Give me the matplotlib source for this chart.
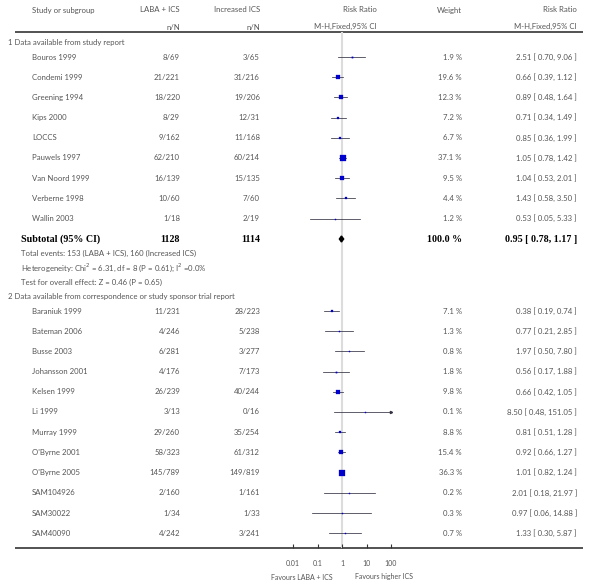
import numpy as np
import matplotlib
matplotlib.use("Agg")
import matplotlib.pyplot as plt
from matplotlib.patches import Polygon

# Group 1: data available from study report
g1_names = ["Bouros 1999", "Condemi 1999", "Greening 1994", "Kips 2000", "LOCCS",
            "Pauwels 1997", "Van Noord 1999", "Verberne 1998", "Wallin 2003"]
g1_laba = ["8/69", "21/221", "18/220", "8/29", "9/162", "62/210", "16/139", "10/60", "1/18"]
g1_ics = ["3/65", "31/216", "19/206", "12/31", "11/168", "60/214", "15/135", "7/60", "2/19"]
g1_weight = [1.9, 19.6, 12.3, 7.2, 6.7, 37.1, 9.5, 4.4, 1.2]
g1_rr = [2.51, 0.66, 0.89, 0.71, 0.85, 1.05, 1.04, 1.43, 0.53]
g1_lo = [0.70, 0.39, 0.48, 0.34, 0.36, 0.78, 0.53, 0.58, 0.05]
g1_hi = [9.06, 1.12, 1.64, 1.49, 1.99, 1.42, 2.01, 3.50, 5.33]

sub_laba, sub_ics, sub_weight = 1128, 1114, 100.0
sub_rr, sub_lo, sub_hi = 0.95, 0.78, 1.17

# Group 2: data available from correspondence or sponsor report
g2_names = ["Baraniuk 1999", "Bateman 2006", "Busse 2003", "Johansson 2001", "Kelsen 1999",
            "Li 1999", "Murray 1999", "O'Byrne 2001", "O'Byrne 2005", "SAM104926",
            "SAM30022", "SAM40090"]
g2_laba = ["11/231", "4/246", "6/281", "4/176", "26/239", "3/13", "29/260", "58/323",
           "145/789", "2/160", "1/34", "4/242"]
g2_ics = ["28/223", "5/238", "3/277", "7/173", "40/244", "0/16", "35/254", "61/312",
          "149/819", "1/161", "1/33", "3/241"]
g2_weight = [7.1, 1.3, 0.8, 1.8, 9.8, 0.1, 8.8, 15.4, 36.3, 0.2, 0.3, 0.7]
g2_rr = [0.38, 0.77, 1.97, 0.56, 0.66, 8.50, 0.81, 0.92, 1.01, 2.01, 0.97, 1.33]
g2_lo = [0.19, 0.21, 0.50, 0.17, 0.42, 0.48, 0.51, 0.66, 0.82, 0.18, 0.06, 0.30]
g2_hi = [0.74, 2.85, 7.80, 1.88, 1.05, 151.05, 1.28, 1.27, 1.24, 21.97, 14.88, 5.87]

ticks = [0.01, 0.1, 1, 10, 100]
tick_labels = ["0.01", "0.1", "1", "10", "100"]

plt.rcParams['font.family'] = ['Lato', 'DejaVu Sans']
txt = '#555555'
fs = 5.6
W, H = 600, 586

fig = plt.figure(figsize=(6.0, 5.86), dpi=100, facecolor='white')
ax = fig.add_axes([0, 0, 1, 1])
ax.set_xlim(0, W)
ax.set_ylim(H, 0)
ax.axis('off')

# forest panel, x in log RR, y in the same pixel rows as the table
top, bot = 32, 548
fx0, fx1 = 293, 391
fa = fig.add_axes([fx0 / W, 1 - bot / H, (fx1 - fx0) / W, (bot - top) / H])
fa.set_xscale('log')
fa.set_xlim(0.01, 100)
fa.set_ylim(bot, top)
fa.patch.set_alpha(0)
for s in fa.spines.values():
    s.set_visible(False)
fa.yaxis.set_visible(False)
fa.set_xticks(ticks)
fa.set_xticklabels(tick_labels, fontsize=fs * 0.9, color=txt)
fa.minorticks_off()
fa.tick_params(axis='x', direction='in', length=3, width=0.8, color='#333333', pad=9)
fa.axvline(1, color='#dcdcdc', lw=1.5, zorder=0)

# header
col_laba, col_ics, col_rr1, col_w, col_rr2 = 180, 260, 377, 462, 577
ax.text(32, 10, "Study or subgroup", fontsize=fs, color=txt, va='center')
ax.text(col_laba, 10, "LABA + ICS", fontsize=fs, color=txt, va='center', ha='right')
ax.text(col_laba, 27, "n/N", fontsize=fs, color=txt, va='center', ha='right')
ax.text(col_ics, 10, "Increased ICS", fontsize=fs, color=txt, va='center', ha='right')
ax.text(col_ics, 27, "n/N", fontsize=fs, color=txt, va='center', ha='right')
ax.text(col_rr1, 10, "Risk Ratio", fontsize=fs, color=txt, va='center', ha='right')
ax.text(col_rr1, 26, "M-H,Fixed,95% CI", fontsize=fs, color=txt, va='center', ha='right')
ax.text(col_w, 10, "Weight", fontsize=fs, color=txt, va='center', ha='right')
ax.text(col_rr2, 10, "Risk Ratio", fontsize=fs, color=txt, va='center', ha='right')
ax.text(col_rr2, 26, "M-H,Fixed,95% CI", fontsize=fs, color=txt, va='center', ha='right')

ax.plot([15, 583], [top, top], color='#444444', lw=1.3, solid_capstyle='butt')
ax.plot([15, 583], [bot, bot], color='#444444', lw=1.3, solid_capstyle='butt')

step = 20.2


def draw_study(y, name, a, b, w, rr, lo, hi):
    ax.text(32, y, name, fontsize=fs, color=txt, va='center')
    ax.text(col_laba, y, a, fontsize=fs, color=txt, va='center', ha='right')
    ax.text(col_ics, y, b, fontsize=fs, color=txt, va='center', ha='right')
    ax.text(col_w, y, "%.1f %%" % w, fontsize=fs, color=txt, va='center', ha='right')
    ax.text(col_rr2, y, "%.2f [ %.2f, %.2f ]" % (rr, lo, hi), fontsize=fs, color=txt,
            va='center', ha='right')
    right = min(hi, 100)
    fa.plot([lo, right], [y, y], color='#333344', lw=0.55, clip_on=False, zorder=2)
    if hi > 100:
        fa.plot([100], [y], marker='>', ms=1.6, color='#333344', clip_on=False, zorder=2)
    ms = 4.4 * np.sqrt(w / 37.1)
    fa.plot([rr], [y], marker='s', ms=max(ms, 0.8), color='#0000cc', mec='#0000cc',
            mew=0.2, clip_on=False, zorder=3)


ax.text(8, 43, "1 Data available from study report", fontsize=fs, color=txt, va='center')
y = 57
for i in range(len(g1_names)):
    draw_study(y + i * step, g1_names[i], g1_laba[i], g1_ics[i], g1_weight[i],
               g1_rr[i], g1_lo[i], g1_hi[i])

ys = 239
bold = dict(fontsize=7.2, color='black', va='center', fontweight='bold',
            family='Liberation Serif')
ax.text(21, ys, "Subtotal (95% CI)", **bold)
ax.text(col_laba, ys, str(sub_laba), ha='right', **bold)
ax.text(col_ics, ys, str(sub_ics), ha='right', **bold)
ax.text(col_w, ys, "%.1f %%" % sub_weight, ha='right', **bold)
ax.text(col_rr2, ys, "%.2f [ %.2f, %.2f ]" % (sub_rr, sub_lo, sub_hi), ha='right', **bold)
fa.add_patch(Polygon([(sub_lo, ys), (sub_rr, ys - 3), (sub_hi, ys), (sub_rr, ys + 3)],
                     closed=True, color='black', clip_on=False, zorder=3))

ax.text(21, 253, "Total events: 153 (LABA + ICS), 160 (Increased ICS)", fontsize=fs,
        color=txt, va='center')
ax.text(21, 267.5, "Heterogeneity: Chi$^2$ = 6.31, df = 8 (P = 0.61); I$^2$ =0.0%",
        fontsize=fs, color=txt, va='center')
ax.text(21, 282, "Test for overall effect: Z = 0.46 (P = 0.65)", fontsize=fs, color=txt,
        va='center')
ax.text(8, 297, "2 Data available from correspondence or study sponsor trial report",
        fontsize=fs, color=txt, va='center')

y = 311
for i in range(len(g2_names)):
    draw_study(y + i * step, g2_names[i], g2_laba[i], g2_ics[i], g2_weight[i],
               g2_rr[i], g2_lo[i], g2_hi[i])

ax.text(333, 577, "Favours LABA + ICS", fontsize=fs * 0.9, color=txt, va='center', ha='right')
ax.text(355, 577, "Favours higher ICS", fontsize=fs * 0.9, color=txt, va='center', ha='left')

fig.savefig("out.png", dpi=100, facecolor='white')
